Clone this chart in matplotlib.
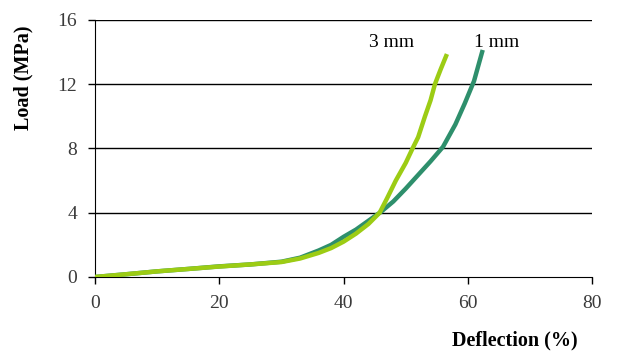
import numpy as np
import matplotlib.pyplot as plt

# Load-deflection curves
defl_1mm = [0, 5, 10, 15, 20, 25, 30, 33, 36, 38, 40, 42, 44, 46, 48, 50, 52, 54, 56, 58, 59.5, 61, 62.3]
load_1mm = [0, 0.17, 0.35, 0.5, 0.66, 0.78, 0.95, 1.2, 1.65, 2.0, 2.5, 2.95, 3.5, 4.05, 4.7, 5.5, 6.35, 7.2, 8.1, 9.5, 10.8, 12.2, 14.0]

defl_3mm = [0, 5, 10, 15, 20, 25, 30, 33, 36, 38, 40, 42, 44, 45.8, 47, 48.4, 50, 51.1, 52, 53.1, 54, 54.7, 55.6, 56.5]
load_3mm = [0, 0.17, 0.35, 0.5, 0.65, 0.78, 0.93, 1.15, 1.5, 1.8, 2.2, 2.7, 3.3, 4.0, 4.9, 6.0, 7.1, 8.0, 8.7, 10.0, 11.0, 12.0, 12.9, 13.75]

x_ticks = [0, 20, 40, 60, 80]
y_ticks = [0, 4, 8, 12, 16]

plt.rcParams['font.family'] = 'Liberation Serif'

fig = plt.figure(figsize=(6.18, 3.63), dpi=100)
ax = fig.add_axes([0.154, 0.237, 0.804, 0.708])

for yv in y_ticks[1:]:
    ax.axhline(yv, color='black', linewidth=1.0, zorder=1)

ax.plot(defl_1mm, load_1mm, color='#2e8f6c', linewidth=3.2, zorder=3)
ax.plot(defl_3mm, load_3mm, color='#9ccc14', linewidth=3.2, zorder=4)

ax.text(47.8, 14.6, '3 mm', fontsize=14, ha='center', va='center')
ax.text(64.7, 14.6, '1 mm', fontsize=14, ha='center', va='center')

ax.set_xlim(0, 80)
ax.set_ylim(0, 16)
ax.set_xticks(x_ticks)
ax.set_yticks(y_ticks)
ax.tick_params(direction='out', length=5, width=1, labelsize=14, labelcolor='#3a3a3a', pad=8)
ax.spines['top'].set_visible(False)
ax.spines['right'].set_visible(False)

fig.text(0.935, 0.062, 'Deflection (%)', fontsize=14.5, fontweight='bold', ha='right', va='center')
fig.text(0.038, 0.785, 'Load (MPa)', fontsize=14.5, fontweight='bold', ha='center', va='center', rotation=90)

fig.savefig('out.png', dpi=100)
